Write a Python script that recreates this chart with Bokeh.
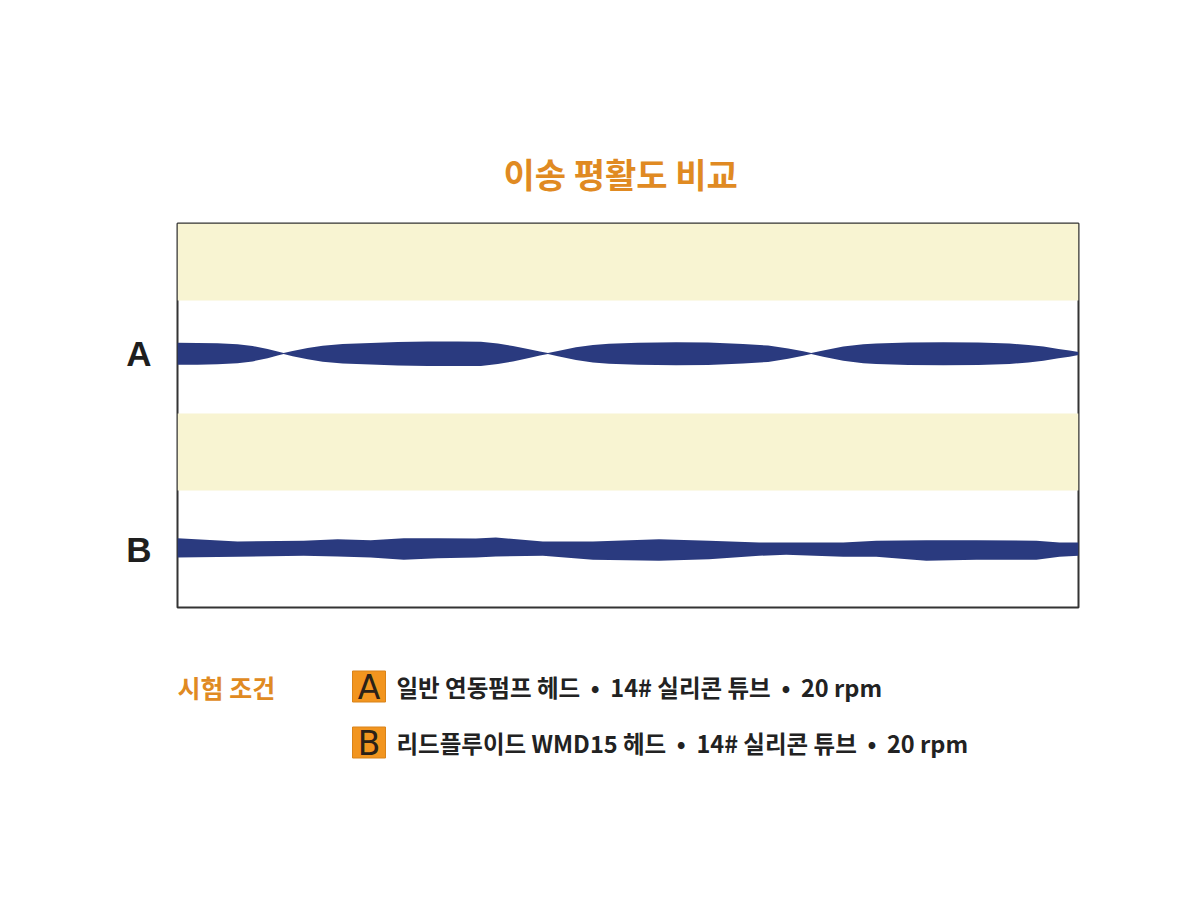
from bokeh.plotting import figure
from bokeh.layouts import column
from bokeh.models import Range1d, FixedTicker
from bokeh.core.properties import value
from bokeh.embed import file_html
from bokeh.resources import INLINE

# ---------------- data ----------------
title_text = "이송 평활도 비교"
row_labels = ["A", "B"]
row_centers = [254, 58.5]

# shaded bands (y extents in chart units, 0..384)
band_bottom = [307, 117]
band_top = [384, 194]

# Sample A: envelope half-width along the tube
A_x = [0, 20, 40, 60, 75, 90, 100, 106, 115, 130, 145, 165, 193, 220, 250, 280,
       303, 320, 335, 350, 362, 370, 380, 398, 415, 431, 460, 498, 530, 565,
       590, 610, 625, 633, 645, 665, 685, 698, 730, 765, 800, 831, 850, 865,
       880, 891, 900]
A_half = [10.8, 10.6, 10.2, 9.2, 7.5, 4.5, 2.0, 0.4, 2.5, 5.5, 7.8, 9.5, 10.5,
          11.5, 12.0, 12.0, 11.8, 10.0, 7.5, 4.5, 2.0, 0.4, 2.5, 6.3, 8.5, 9.7,
          10.8, 11.2, 11.0, 9.5, 8.0, 5.0, 2.2, 0.4, 3.0, 7.0, 9.2, 10.0, 11.0,
          11.3, 11.0, 10.0, 8.5, 7.0, 4.5, 3.0, 1.5]

# Sample B: upper / lower edge of the trace
B_x = [0, 60, 126, 160, 193, 226, 260, 298, 318, 365, 415, 481, 531, 581, 608,
       665, 698, 748, 798, 858, 881, 900]
B_top = [69.3, 66.0, 66.7, 68.3, 67.3, 69.3, 69.3, 69.0, 70.0, 66.0, 66.0, 68.3,
         66.7, 65.0, 65.0, 65.0, 66.7, 67.3, 67.3, 66.7, 65.0, 65.0]
B_bottom = [50.0, 50.7, 51.7, 51.0, 50.0, 47.7, 49.3, 50.0, 51.0, 51.7, 47.7,
            46.7, 48.3, 51.7, 52.7, 50.7, 50.7, 46.7, 47.7, 47.7, 50.7, 51.7]

legend_heading = "시험 조건"
legend_keys = ["A", "B"]
SEP = "\u00a0\u00a0•\u00a0\u00a0"
legend_texts = ["일반 연동펌프 헤드" + SEP + "14# 실리콘 튜브" + SEP + "20 rpm",
                "리드플루이드 WMD15 헤드" + SEP + "14# 실리콘 튜브" + SEP + "20 rpm"]

# ---------------- styles ----------------
ORANGE = "#e08a22"
BOX_ORANGE = "#f2951f"
NAVY = "#2a3a7f"
BAND = "#f8f4d2"
KR = "Noto Sans CJK KR"

# ---------------- chart ----------------
p = figure(width=1192, height=627, output_backend="svg", toolbar_location=None,
           x_range=Range1d(0, 900), y_range=Range1d(0, 384),
           min_border_left=177, min_border_right=114, min_border_top=223,
           min_border_bottom=20, background_fill_color="white",
           border_fill_color="white")
p.title.text = title_text
p.title.align = "left"
p.title.offset = 326
p.title.text_font = KR
p.title.text_font_size = "34px"
p.title.text_font_style = "bold"
p.title.text_color = ORANGE
p.title.standoff = 52

p.outline_line_color = "#333333"
p.outline_line_width = 2
p.grid.visible = False
p.xaxis.visible = False

p.quad(left=0, right=900, bottom=band_bottom, top=band_top,
       fill_color=BAND, line_color=None)

A_lo = [row_centers[0] - h * 1.05 for h in A_half]
A_hi = [row_centers[0] + h for h in A_half]
p.varea(x=A_x, y1=A_lo, y2=A_hi, fill_color=NAVY)
p.varea(x=B_x, y1=B_bottom, y2=B_top, fill_color=NAVY)

ya = p.yaxis[0]
ya.ticker = FixedTicker(ticks=row_centers)
ya.major_label_overrides = {row_centers[0]: row_labels[0], row_centers[1]: row_labels[1]}
ya.axis_line_color = None
ya.major_tick_line_color = None
ya.minor_tick_line_color = None
ya.major_label_text_font = "Liberation Sans"
ya.major_label_text_font_style = "bold"
ya.major_label_text_font_size = "35px"
ya.major_label_text_color = "#1e1e1e"
ya.major_label_standoff = 20

# ---------------- legend panel (x in page pixels, y down from panel top) ----
lg = figure(width=1192, height=265, output_backend="svg", toolbar_location=None,
            x_range=Range1d(177, 1078), y_range=Range1d(265, 0),
            min_border_left=177, min_border_right=114, min_border_top=0,
            min_border_bottom=0, outline_line_color=None)
lg.axis.visible = False
lg.grid.visible = False

lg.text(x=[177], y=[59], text=[legend_heading], text_font=value(KR),
        text_font_style="bold", text_font_size="25px", text_color=ORANGE,
        text_baseline="middle", text_align="left")

row_y = [59, 115]
lg.rect(x=[368.5, 368.5], y=row_y, width=33, height=31, fill_color=BOX_ORANGE,
        line_color="#d9831a", line_width=1)
lg.text(x=[368.5, 368.5], y=[r + 1 for r in row_y], text=legend_keys,
        text_font=value("DejaVu Sans"), text_font_style="normal",
        text_font_size="33px", text_color="#2a2118",
        text_baseline="middle", text_align="center")
lg.text(x=[396, 396], y=row_y, text=legend_texts, text_font=value(KR),
        text_font_style="bold", text_font_size="23.5px", text_color="#222222",
        text_baseline="middle", text_align="left")

layout = column(p, lg, spacing=0)
open("out.html", "w").write(file_html(layout, INLINE))
